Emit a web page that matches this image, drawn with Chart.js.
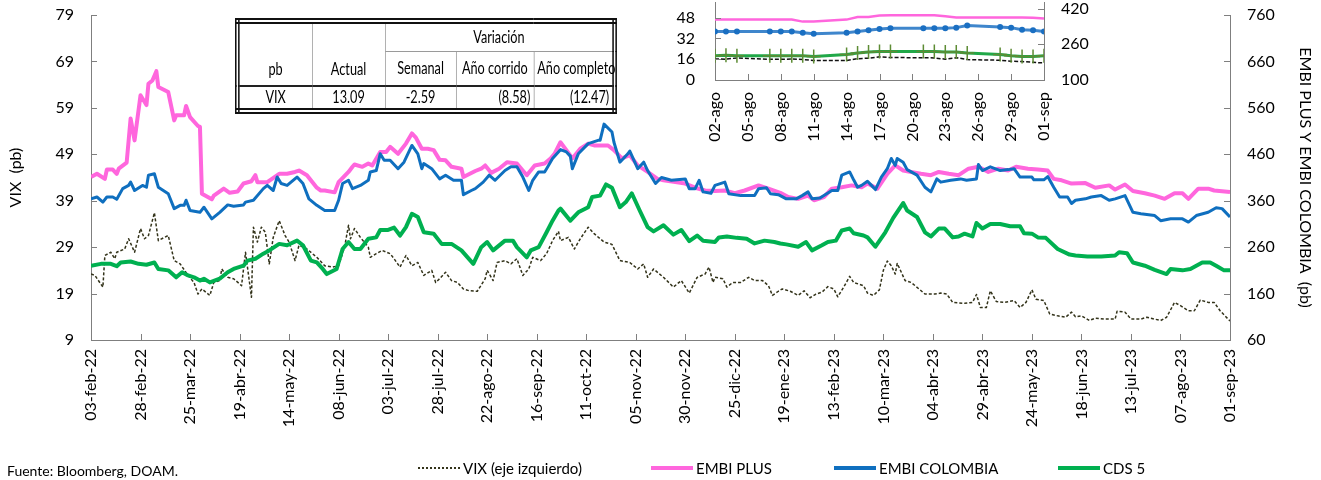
<!DOCTYPE html>
<html>
<head>
<meta charset="utf-8">
<script src="https://cdn.jsdelivr.net/npm/chart.js@4/dist/chart.umd.min.js"></script>
<style>
  body { margin: 0; background: #fff; font-family: Lato, sans-serif; }
  #wrap { position: relative; width: 1321px; height: 480px; overflow: hidden; }
  #mainChart { position: absolute; left: 0; top: 0; }
  #insetChart { position: absolute; left: 660px; top: 0; }
  /* table laid out wide, then squeezed horizontally for the narrow type */
  #tbl { position: absolute; left: 235px; top: 18px; border-collapse: collapse; border: 6px double #111;
         table-layout: fixed; width: 490px; transform: scaleX(0.77); transform-origin: left top;
         font-family: Lato, sans-serif; font-size: 16.5px; color: #000; }
  #tbl td { border: 1px solid #9a9a9a; padding: 0 4px; white-space: nowrap; line-height: 1; }
  #tbl tr.data td { border-top: 2px solid #222; }
  .leg { position: absolute; top: 459px; font-size: 15px; display: flex; align-items: center; height: 18px; }
  .leg i { display: inline-block; width: 42px; margin-right: 3px; }
  #src { position: absolute; left: 7px; top: 462px; font-size: 14px; }
</style>
</head>
<body>
<div id="wrap">
  <canvas id="mainChart" width="1321" height="480"></canvas>
  <canvas id="insetChart" width="450" height="152"></canvas>
  <table id="tbl"></table>
  <div id="legend"></div>
  <div id="src">Fuente: Bloomberg, DOAM.</div>
</div>
<script>
// day offsets counted from 03-feb-22
const xTickLabels = ['03-feb-22','28-feb-22','25-mar-22','19-abr-22','14-may-22','08-jun-22','03-jul-22','28-jul-22',
  '22-ago-22','16-sep-22','11-oct-22','05-nov-22','30-nov-22','25-dic-22','19-ene-23','13-feb-23','10-mar-23',
  '04-abr-23','29-abr-23','24-may-23','18-jun-23','13-jul-23','07-ago-23','01-sep-23'];

// VIX (left axis)
const vix = [[0,23.2],[2,22.9],[6,20.4],[7,27.2],[10,27.9],[12,26.5],[13,27.9],[17,28.6],[19,30.8],[22,27.9],
  [25,33.0],[27,30.8],[29,31.5],[32,36.4],[34,30.4],[37,31.1],[39,31.5],[42,26.1],[45,25.4],[49,22.9],[52,21.4],
  [54,18.9],[56,20.0],[60,18.6],[62,21.4],[65,21.8],[66,24.3],[69,22.5],[72,22.2],[76,20.7],[78,27.9],[81,18.2],
  [82,33.3],[84,30.1],[86,33.3],[88,32.2],[90,25.4],[92,31.1],[95,34.7],[98,31.5],[100,30.1],[103,26.1],[105,29.4],
  [109,28.6],[114,26.8],[118,25.0],[122,24.7],[125,25.0],[128,29.0],[130,33.7],[131,30.8],[133,33.0],[136,31.1],
  [140,29.0],[141,26.8],[144,27.6],[147,28.3],[151,27.6],[153,26.5],[156,24.7],[159,27.2],[162,25.0],[165,25.7],
  [168,22.9],[172,24.0],[174,21.4],[176,22.2],[179,23.6],[182,21.8],[185,21.4],[188,20.0],[191,19.6],[195,19.5],
  [199,22.2],[200,24.0],[203,21.8],[205,25.7],[209,26.1],[212,25.4],[215,26.5],[218,22.9],[221,24.3],[223,26.8],
  [227,26.1],[230,27.6],[233,30.4],[236,32.4],[237,30.4],[241,31.1],[244,28.6],[247,30.8],[251,33.3],[254,31.9],
  [259,30.1],[263,29.6],[267,26.1],[272,25.7],[276,24.3],[279,25.4],[281,22.5],[284,24.3],[289,22.5],[294,20.4],
  [298,21.8],[302,19.1],[306,22.5],[310,23.2],[312,24.7],[314,21.4],[315,22.5],[319,22.2],[321,20.4],[324,21.4],
  [328,21.4],[332,22.5],[335,21.8],[339,21.8],[342,20.7],[344,18.6],[347,19.5],[349,20.0],[353,19.5],[357,18.6],
  [360,19.6],[363,18.1],[366,18.9],[369,19.3],[372,20.5],[375,20.0],[377,18.3],[380,20.4],[383,22.7],[385,21.4],
  [390,20.7],[392,19.1],[395,18.6],[398,19.8],[400,24.0],[402,26.0],[404,25.0],[406,23.2],[407,25.5],[411,21.8],
  [414,21.4],[418,20.0],[421,18.9],[426,18.9],[429,19.1],[432,18.9],[435,17.1],[441,16.9],[445,17.1],[447,18.8],
  [449,16.0],[452,16.0],[454,19.6],[457,17.3],[461,17.1],[466,17.5],[469,16.0],[472,17.1],[475,19.8],[477,17.8],
  [481,17.5],[484,14.6],[488,14.2],[492,13.9],[495,15.0],[497,14.0],[500,14.2],[504,13.2],[507,13.7],[512,13.5],
  [517,13.5],[518,15.2],[522,15.0],[525,13.5],[530,13.5],[533,13.9],[537,13.5],[540,13.2],[543,13.9],[547,17.1],
  [550,16.4],[554,15.3],[557,15.3],[560,17.6],[564,17.1],[567,17.1],[570,15.3],[575,13.09]];

// EMBI PLUS (right axis)
const embiPlus = [[0,411],[3,418],[7,407],[8,427],[11,427],[13,418],[14,429],[18,442],[20,537],[22,490],[25,587],
  [28,566],[29,612],[31,619],[33,639],[34,605],[39,594],[42,533],[43,544],[47,544],[48,564],[50,540],[54,521],
  [55,519],[56,375],[61,363],[62,371],[67,386],[70,377],[74,380],[77,397],[81,402],[83,415],[84,400],[89,400],
  [95,418],[99,418],[103,422],[105,425],[109,415],[114,388],[116,382],[118,382],[123,378],[125,400],[130,422],
  [132,433],[133,438],[137,433],[140,440],[142,436],[146,465],[149,465],[151,476],[155,461],[159,483],[162,505],
  [164,496],[167,472],[170,472],[173,469],[176,448],[179,447],[182,433],[187,429],[188,411],[194,424],[197,429],
  [199,436],[202,420],[206,429],[210,443],[215,440],[220,415],[224,436],[229,440],[232,451],[234,461],[237,486],
  [240,469],[243,451],[247,472],[251,483],[254,479],[257,479],[261,479],[264,469],[268,451],[272,458],[276,436],
  [281,422],[286,407],[289,404],[295,400],[300,397],[305,388],[310,382],[315,381],[320,382],[325,376],[330,382],
  [337,393],[342,386],[348,377],[352,368],[357,364],[362,371],[365,361],[370,368],[374,386],[379,389],[384,393],
  [389,389],[392,397],[397,386],[402,418],[406,436],[410,425],[414,422],[419,418],[424,415],[428,422],[433,418],
  [438,415],[443,429],[448,433],[453,422],[458,429],[463,425],[467,433],[473,429],[478,427],[483,425],[486,407],
  [490,404],[495,397],[502,398],[507,388],[514,393],[517,384],[522,395],[526,381],[532,376],[537,371],[542,364],
  [547,376],[551,376],[554,364],[559,386],[564,386],[567,382],[575,379]];

// EMBI COLOMBIA (right axis)
const embiCol = [[0,364],[3,368],[6,357],[8,368],[11,368],[13,363],[16,386],[19,393],[20,400],[22,382],[26,393],
  [28,389],[29,415],[32,418],[34,389],[39,375],[42,343],[45,350],[47,350],[48,361],[50,339],[55,335],[57,346],
  [61,321],[65,335],[69,351],[72,348],[77,351],[78,357],[82,361],[87,386],[89,393],[92,382],[94,411],[96,397],
  [99,393],[104,411],[107,397],[110,364],[114,350],[118,339],[123,339],[125,361],[127,397],[130,404],[132,386],
  [136,393],[140,404],[141,422],[144,425],[146,461],[148,447],[151,447],[155,429],[158,443],[162,479],[165,461],
  [167,429],[168,440],[172,429],[176,407],[179,415],[183,404],[187,404],[188,373],[192,382],[194,386],[198,400],
  [201,415],[204,404],[209,425],[212,433],[215,433],[218,411],[221,382],[223,404],[226,422],[229,422],[230,429],
  [233,451],[237,470],[240,465],[242,456],[243,429],[246,461],[251,483],[256,490],[257,490],[259,525],[263,508],
  [264,486],[267,443],[271,461],[272,467],[276,429],[279,443],[281,425],[285,397],[288,410],[293,404],[300,407],
  [302,386],[305,386],[307,404],[309,379],[313,376],[315,393],[320,400],[322,375],[328,371],[335,371],[337,386],
  [341,388],[343,375],[347,373],[351,364],[356,364],[359,371],[362,379],[364,364],[368,366],[371,374],[374,382],
  [377,382],[379,415],[383,422],[385,405],[387,389],[389,393],[392,402],[394,393],[396,384],[399,411],[402,429],
  [404,451],[406,436],[407,451],[410,443],[412,427],[417,415],[421,389],[424,379],[427,407],[429,400],[434,404],
  [439,407],[442,404],[447,407],[448,438],[450,425],[454,433],[459,425],[463,427],[466,429],[469,411],[475,411],
  [476,405],[481,405],[483,412],[486,389],[489,368],[493,368],[495,354],[497,361],[502,364],[505,368],[510,371],
  [514,361],[517,364],[522,371],[526,335],[530,332],[537,328],[540,317],[545,321],[551,321],[554,314],[558,328],
  [564,335],[568,345],[571,343],[575,325]];

// CDS 5 (right axis)
const cds5 = [[0,220],[5,224],[10,224],[13,219],[15,227],[20,229],[24,224],[28,222],[32,227],[34,213],[39,210],
  [43,195],[46,206],[49,199],[52,195],[55,188],[57,192],[60,184],[65,192],[69,206],[72,213],[77,220],[79,231],
  [83,235],[87,246],[90,253],[95,267],[99,264],[104,274],[107,264],[111,231],[114,227],[117,213],[119,202],
  [124,213],[127,256],[130,271],[133,256],[136,256],[140,278],[144,281],[146,297],[150,297],[153,302],[156,285],
  [159,303],[162,332],[165,325],[168,292],[173,289],[177,267],[182,267],[187,253],[193,224],[197,260],[200,271],
  [203,253],[209,274],[213,274],[215,260],[220,238],[222,253],[226,260],[230,292],[233,317],[236,339],[237,343],
  [242,317],[246,335],[251,346],[253,368],[257,371],[260,395],[263,388],[267,346],[270,357],[273,376],[277,339],
  [281,303],[284,294],[289,307],[294,287],[298,297],[302,273],[306,285],[309,274],[315,271],[317,281],[321,283],
  [326,280],[331,278],[335,268],[340,274],[345,271],[348,268],[351,266],[357,261],[361,271],[364,253],[369,264],
  [372,271],[376,274],[379,296],[383,300],[385,290],[390,285],[392,281],[396,261],[401,292],[405,323],[410,355],
  [412,339],[417,325],[421,292],[424,283],[428,300],[431,300],[435,281],[438,283],[441,289],[445,283],[447,312],
  [450,300],[454,310],[459,310],[464,305],[469,305],[471,290],[475,289],[478,281],[482,280],[488,256],[494,244],
  [497,242],[503,240],[510,240],[517,242],[519,249],[523,247],[526,227],[532,220],[537,211],[543,202],[545,213],
  [551,210],[555,213],[561,227],[565,227],[568,220],[572,210],[575,210]];

// inset: august business days (01-sep = day 32)
const insetDays = [2,3,4,7,8,9,10,11,14,15,16,17,18,21,22,23,24,25,28,29,30,31,32];
const insetLabels = ['02-ago','05-ago','08-ago','11-ago','14-ago','17-ago','20-ago','23-ago','26-ago','29-ago','01-sep'];
const insetVix = [16.2,16.0,17.0,15.9,16.0,16.1,15.8,15.0,15.0,16.4,16.8,17.8,17.3,17.1,17.0,16.0,17.2,15.7,15.2,14.5,14.2,13.6,13.09];
const insetPlus = [371,371,371,371,371,371,362,362,371,383,383,389,391,391,391,386,381,381,381,381,381,379,376];
const insetCol = [318,318,318,318,318,318,312,308,312,318,323,329,332,332,332,332,335,344,338,335,326,323,318];
const insetCds = [209,211,209,209,209,209,209,206,214,221,226,228,228,228,228,226,226,221,214,209,206,206,209];
const insetLeftTicks = [0,16,32,48];
const insetRightTicks = [100,260,420];

// summary table
const tableHead = ['pb','Actual','Variación'];
const tableSub = ['Semanal','Año corrido','Año completo'];
const tableRow = ['VIX','13.09','-2.59','(8.58)','(12.47)'];

const colors = { vix: '#33331a', plus: '#ff66dd', col: '#0f6fbf', cds: '#00b050' };

Chart.defaults.font.family = 'Lato, sans-serif';
Chart.defaults.font.size = 16;
Chart.defaults.color = '#000';

// short tick marks drawn inward from each axis line
const insideTicks = {
  id: 'insideTicks',
  afterDraw(chart) {
    const ctx = chart.ctx;
    ctx.save();
    ctx.strokeStyle = '#7f7f7f';
    ctx.lineWidth = 1;
    Object.values(chart.scales).forEach(s => {
      s.ticks.forEach(t => {
        const p = Math.round(s.getPixelForValue(t.value)) + 0.5;
        ctx.beginPath();
        if (s.position === 'bottom') { ctx.moveTo(p, s.top); ctx.lineTo(p, s.top - 6); }
        else if (s.position === 'left') { ctx.moveTo(s.right, p); ctx.lineTo(s.right + 6, p); }
        else { ctx.moveTo(s.left, p); ctx.lineTo(s.left - 6, p); }
        ctx.stroke();
      });
    });
    ctx.restore();
  }
};

// fixed box sizes so the plot area sits exactly where the layout wants it
const fixWidth = w => s => { s.width = w; s.paddingTop = 0; s.paddingBottom = 0; };
const fixHeight = h => s => { s.height = h; s.paddingLeft = 0; s.paddingRight = 0; };

const pts = arr => arr.map(([x, y]) => ({ x, y }));
const axisBorder = { display: true, color: '#7f7f7f', width: 1 };

new Chart(document.getElementById('mainChart'), {
  type: 'line',
  data: {
    datasets: [
      { label: 'VIX (eje izquierdo)', data: pts(vix), yAxisID: 'y', borderColor: colors.vix, borderWidth: 1.5, borderDash: [3, 2], order: 4 },
      { label: 'EMBI PLUS', data: pts(embiPlus), yAxisID: 'y1', borderColor: colors.plus, borderWidth: 4, order: 3 },
      { label: 'EMBI COLOMBIA', data: pts(embiCol), yAxisID: 'y1', borderColor: colors.col, borderWidth: 3, order: 2 },
      { label: 'CDS 5', data: pts(cds5), yAxisID: 'y1', borderColor: colors.cds, borderWidth: 4, order: 1 }
    ]
  },
  options: {
    responsive: false,
    animation: false,
    devicePixelRatio: 1,
    layout: { autoPadding: false, padding: { top: 15, left: 0, right: 0, bottom: 0 } },
    elements: { point: { radius: 0 }, line: { tension: 0, borderJoinStyle: 'round', fill: false } },
    plugins: { legend: { display: false }, tooltip: { enabled: false } },
    scales: {
      x: {
        type: 'linear', min: 0, max: 575,
        grid: { display: false, drawTicks: false },
        border: axisBorder,
        afterFit: fixHeight(140),
        ticks: { stepSize: 25, autoSkip: false, minRotation: 90, maxRotation: 90, padding: 9,
                 callback: v => xTickLabels[Math.round(v / 25)] }
      },
      y: {
        position: 'left', min: 9, max: 79,
        grid: { display: false, drawTicks: false },
        border: axisBorder,
        afterFit: fixWidth(91),
        ticks: { stepSize: 10, padding: 17, autoSkip: false },
        title: { display: true, text: 'VIX  (pb)', padding: { top: 6, bottom: 0 } }
      },
      y1: {
        position: 'right', min: 60, max: 760,
        grid: { display: false, drawTicks: false },
        border: axisBorder,
        afterFit: fixWidth(91),
        ticks: { stepSize: 100, padding: 17, autoSkip: false },
        title: { display: true, text: 'EMBI PLUS Y EMBI COLOMBIA  (pb)', padding: { top: 6, bottom: 0 } }
      }
    }
  },
  plugins: [insideTicks]
});

const insetPts = vals => vals.map((v, i) => ({ x: insetDays[i], y: v }));

new Chart(document.getElementById('insetChart'), {
  type: 'line',
  data: {
    datasets: [
      { data: insetPts(insetVix), yAxisID: 'y', borderColor: '#111', borderWidth: 1.5, borderDash: [4, 2], pointRadius: 0, order: 4 },
      { data: insetPts(insetPlus), yAxisID: 'y1', borderColor: colors.plus, borderWidth: 2.5, pointRadius: 0, order: 3 },
      { data: insetPts(insetCol), yAxisID: 'y1', borderColor: '#3f86cc', borderWidth: 3, pointRadius: 3,
        pointBackgroundColor: '#1a6fc2', pointBorderColor: '#1a6fc2', pointBorderWidth: 0, order: 2 },
      { data: insetPts(insetCds), yAxisID: 'y1', borderColor: '#20a848', borderWidth: 3, pointRadius: 7,
        pointStyle: 'cross', pointBorderColor: '#5d8c34', pointBorderWidth: 1.5, order: 1 }
    ]
  },
  options: {
    responsive: false,
    animation: false,
    devicePixelRatio: 1,
    layout: { autoPadding: false, padding: { top: 2 } },
    elements: { line: { tension: 0, fill: false } },
    plugins: { legend: { display: false }, tooltip: { enabled: false } },
    scales: {
      x: {
        type: 'linear', min: 2, max: 32,
        grid: { display: false, drawTicks: false },
        border: axisBorder,
        afterFit: fixHeight(72),
        ticks: { stepSize: 3, autoSkip: false, minRotation: 90, maxRotation: 90, padding: 12,
                 callback: v => insetLabels[Math.round((v - 2) / 3)] }
      },
      y: {
        position: 'left', min: 0, max: 60,
        grid: { display: false, drawTicks: false },
        border: axisBorder,
        afterFit: fixWidth(55),
        afterBuildTicks: s => { s.ticks = insetLeftTicks.map(v => ({ value: v })); },
        ticks: { padding: 20, autoSkip: false }
      },
      y1: {
        position: 'right', min: 100, max: 450,
        grid: { display: false, drawTicks: false },
        border: axisBorder,
        afterFit: fixWidth(66),
        afterBuildTicks: s => { s.ticks = insetRightTicks.map(v => ({ value: v })); },
        ticks: { padding: 17, autoSkip: false }
      }
    }
  },
  plugins: [insideTicks]
});

// table markup built from the arrays above (widths before the 0.77 squeeze)
const colW = [97, 95, 92, 101, 105];
const tbl = document.getElementById('tbl');
tbl.innerHTML =
  '<colgroup>' + colW.map(w => '<col style="width:' + w + 'px">').join('') + '</colgroup>' +
  '<tr style="height:30px"><td rowspan="2" style="text-align:center;vertical-align:bottom;padding-bottom:8px">' + tableHead[0] + '</td>' +
  '<td rowspan="2" style="text-align:center;vertical-align:bottom;padding-bottom:8px">' + tableHead[1] + '</td>' +
  '<td colspan="3" style="text-align:center">' + tableHead[2] + '</td></tr>' +
  '<tr style="height:35px">' + tableSub.map(t => '<td style="text-align:center">' + t + '</td>').join('') + '</tr>' +
  '<tr class="data" style="height:25px">' + tableRow.map((t, i) =>
    '<td style="text-align:' + (i > 2 ? 'right' : 'center') + '">' + t + '</td>').join('') + '</tr>';

// legend
const legendItems = [
  { text: 'VIX (eje izquierdo)', left: 418, line: 'border-top:2px dotted ' + colors.vix },
  { text: 'EMBI PLUS', left: 651, line: 'border-top:4px solid ' + colors.plus },
  { text: 'EMBI COLOMBIA', left: 834, line: 'border-top:4px solid ' + colors.col },
  { text: 'CDS 5', left: 1058, line: 'border-top:4px solid ' + colors.cds }
];
document.getElementById('legend').innerHTML = legendItems.map(it =>
  '<div class="leg" style="left:' + it.left + 'px"><i style="' + it.line + '"></i>' + it.text + '</div>').join('');
</script>
</body>
</html>
